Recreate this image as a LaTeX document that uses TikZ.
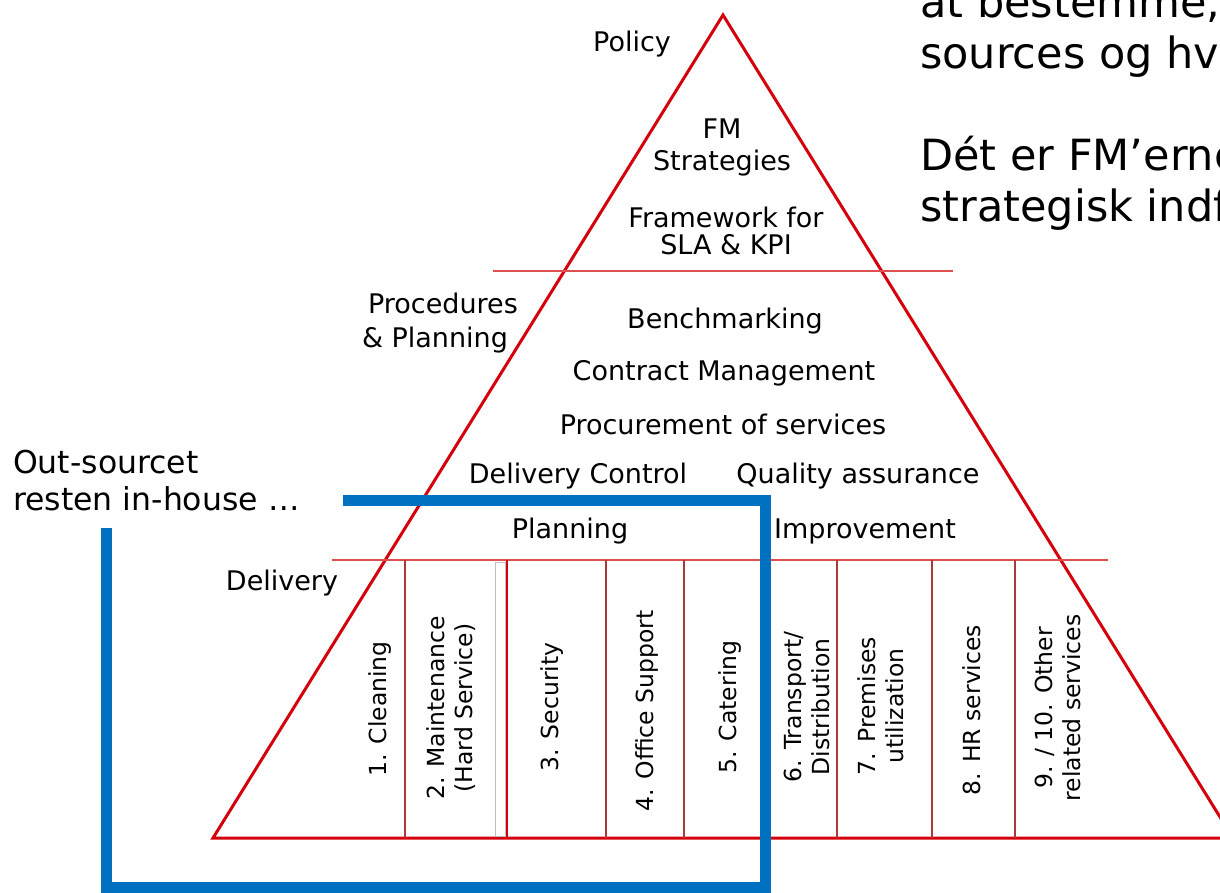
\documentclass[tikz,border=0pt]{standalone}
\usepackage{fontspec}
\setmainfont{DejaVu Sans}
\definecolor{tri}{RGB}{212,0,12}
\definecolor{hline}{RGB}{222,80,80}
\definecolor{divline}{RGB}{168,58,58}
\definecolor{boxblue}{RGB}{0,112,192}
\begin{document}
\begin{tikzpicture}[x=1pt,y=-1pt,
  lbl/.style={inner sep=0pt, anchor=base, font=\fontsize{27}{32}\selectfont},
  vlbl/.style={inner sep=0pt, rotate=90, align=center, font=\fontsize{23.5}{28}\selectfont},
  side/.style={inner sep=0pt, anchor=base west, font=\fontsize{31.5}{37}\selectfont},
  big/.style={inner sep=0pt, anchor=base west, font=\fontsize{43}{50}\selectfont},
  trianglepath/.style={draw=tri, line width=3pt, line join=miter},
  layerline/.style={draw=hline, line width=1.8pt},
  divider/.style={draw=divline, line width=2pt},
  reddivider/.style={draw=tri, line width=2pt},
  scrollmark/.style={draw=gray!50, line width=1pt},
  outsource/.style={draw=boxblue, line width=11pt, line join=miter}
]
\useasboundingbox (0,0) rectangle (1220,892);
\clip (0,0) rectangle (1220,892);
\fill[white] (0,0) rectangle (1220,892);

% pyramid
\coordinate (apex) at (723,15);
\coordinate (bl) at (213,838);
\coordinate (br) at (1233,838);
\draw[trianglepath] (bl) -- (apex) -- (br) -- cycle;

% layer lines
\coordinate (l1a) at (493,271);
\coordinate (l1b) at (953,271);
\coordinate (l2a) at (332,560);
\coordinate (l2b) at (1108,560);
\draw[layerline] (l1a) -- (l1b);
\draw[layerline] (l2a) -- (l2b);

% service dividers
\foreach \x in {405,606,684,837,932,1015}
  \draw[divider] (\x,560) -- (\x,838);
\draw[scrollmark] (495,562) rectangle (505,836);
\draw[reddivider] (507,560) -- (507,838);

% top level texts
\node[lbl] (policy) at (632,51) {Policy};
\node[lbl] (fm) at (722,138) {FM};
\node[lbl] (strat) at (722,170) {Strategies};
\node[lbl] (frame) at (726,227) {Framework for};
\node[lbl] (sla) at (726,254) {SLA \& KPI};

% middle level texts
\node[lbl] (proc) at (443,313) {Procedures};
\node[lbl] (procpl) at (435,347) {\& Planning};
\node[lbl] (bench) at (725,328) {Benchmarking};
\node[lbl] (contract) at (724,380) {Contract Management};
\node[lbl] (procure) at (723,434) {Procurement of services};
\node[lbl] (delctrl) at (578,483) {Delivery Control};
\node[lbl] (quality) at (858,483) {Quality assurance};
\node[lbl] (planning) at (570,538) {Planning};
\node[lbl] (improve) at (865,538) {Improvement};

% delivery level
\node[lbl] (delivery) at (282,590) {Delivery};
\node[vlbl] (s1) at (380,709) {1. Cleaning};
\node[vlbl] (s2) at (451,708) {2. Maintenance\\(Hard Service)};
\node[vlbl] (s3) at (552,707) {3. Security};
\node[vlbl] (s4) at (647,711) {4. Office Support};
\node[vlbl] (s5) at (730,707) {5. Catering};
\node[vlbl] (s6) at (807,707) {6. Transport/\\Distribution};
\node[vlbl] (s7) at (881,706) {7. Premises\\utilization};
\node[vlbl] (s8) at (972,710) {8. HR services};
\node[vlbl] (s9) at (1058,708) {9. / 10. Other\\related services};

% side texts
\node[side] (out1) at (13,473) {Out-sourcet};
\node[side] (out2) at (13,510) {resten in-house …};
\node[big] (t1) at (920,17) {at bestemme,};
\node[big] (t2) at (920,68) {sources og hv};
\node[big] (t3) at (920,170) {Dét er FM’erne};
\node[big] (t4) at (920,221) {strategisk indf};

% out-sourcing frame
\coordinate (b1) at (343,500.5);
\coordinate (b2) at (765,500.5);
\coordinate (b3) at (765,887);
\coordinate (b4) at (106.5,887);
\coordinate (b5) at (106.5,528);
\draw[outsource] (b1) -- (b2) -- (b3) -- (b4) -- (b5);
\end{tikzpicture}
\end{document}
